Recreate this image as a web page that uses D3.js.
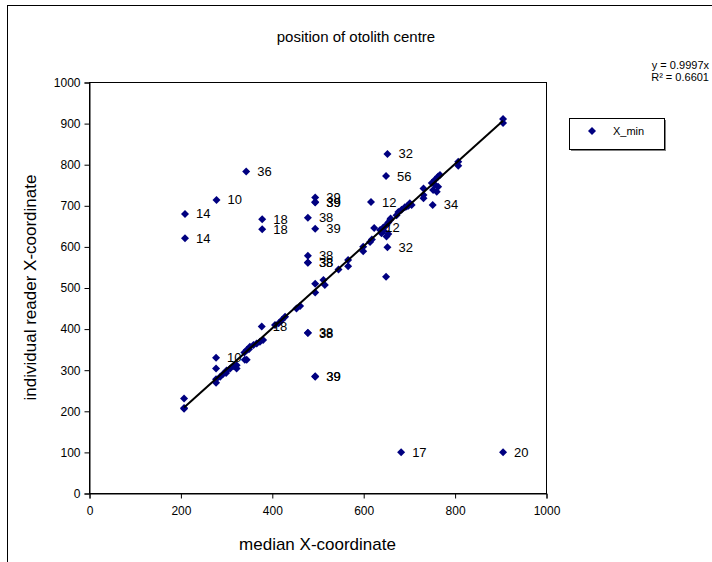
<!DOCTYPE html>
<html>
<head>
<meta charset="utf-8">
<script src="https://cdn.jsdelivr.net/npm/d3@7"></script>
<style>
  html, body { margin: 0; padding: 0; background: #fff; }
  svg { display: block; font-family: "Liberation Sans", Arial, sans-serif; }
</style>
</head>
<body>
<svg id="chart" width="712" height="562"></svg>
<script>
// ---- data ----
const medianX = [
  210, 210, 279, 344, 379, 379, 479, 495, 495, 495, 495, 479, 479, 479,
  653, 650, 617, 624, 653, 752, 479, 479, 495, 495, 278, 378, 683, 906,
  650,
  208, 208, 208,
  278, 278, 278,
  294, 301, 309, 316, 323, 323, 300, 287,
  341, 345, 345, 352, 360, 367, 374, 381, 340, 350,
  407, 422, 429, 415,
  454, 462,
  495, 495, 513, 516, 546, 567, 567, 600, 600, 615, 619,
  637, 644, 651, 655, 659, 640, 651, 655, 645, 660,
  673, 677, 684, 691, 699, 706, 695, 702,
  732, 732, 732, 750, 757, 764, 768, 753, 761, 764, 757,
  808, 808,
  906, 906
];
const readerX = [
  679, 620, 713, 782, 666, 642, 670, 719, 708, 707, 643, 577, 561, 560,
  825, 771, 708, 645, 598, 701, 390, 389, 284, 283, 329, 405, 99, 99,
  526,
  230, 207, 205,
  303, 277, 268,
  290, 298, 303, 309, 311, 303, 292, 283,
  324, 324, 348, 356, 360, 364, 368, 372, 342, 350,
  409, 421, 429, 413,
  449, 455,
  509, 488, 518, 506, 544, 567, 552, 599, 588, 611, 617,
  640, 646, 652, 658, 664, 632, 624, 630, 638, 668,
  676, 684, 689, 695, 699, 701, 697, 705,
  741, 725, 717, 754, 762, 770, 774, 737, 733, 745, 750,
  806, 796,
  910, 900
];
const pointLabels = [
  "14", "14", "10", "36", "18", "18", "38", "39", "39", "39", "39", "38", "38", "38",
  "32", "56", "12", "12", "32", "34", "38", "38", "39", "39", "10", "18", "17", "20"
];
const xTicks = [0, 200, 400, 600, 800, 1000];
const yTicks = [0, 100, 200, 300, 400, 500, 600, 700, 800, 900, 1000];
const trendSlope = 0.9997;
const equationLines = ["y = 0.9997x", "R\u00B2 = 0.6601"];
const chartTitle = "position of otolith centre";
const xTitle = "median X-coordinate";
const yTitle = "individual reader X-coordinate";
const seriesName = "X_min";

// ---- layout ----
const plot = { left: 89, right: 546, top: 82, bottom: 493 };
const svg = d3.select("#chart");
const markColor = "#000080";

const x = d3.scaleLinear().domain([0, 1000]).range([plot.left, plot.right]);
const y = d3.scaleLinear().domain([0, 1000]).range([plot.bottom, plot.top]);

// outer chart border
svg.append("rect")
  .attr("x", 7.5).attr("y", 5.5)
  .attr("width", 760).attr("height", 600)
  .attr("fill", "none").attr("stroke", "#000").attr("stroke-width", 1);

// plot area frame
svg.append("rect")
  .attr("x", plot.left + 0.5).attr("y", plot.top + 0.5)
  .attr("width", plot.right - plot.left).attr("height", plot.bottom - plot.top)
  .attr("fill", "none").attr("stroke", "#000").attr("stroke-width", 1);

// axes
const gx = svg.append("g")
  .attr("transform", `translate(0.5,${plot.bottom + 0.5})`)
  .call(d3.axisBottom(x).tickValues(xTicks).tickSize(5).tickPadding(8).tickFormat(d3.format("d")));
const gy = svg.append("g")
  .attr("transform", `translate(${plot.left + 0.5},0.5)`)
  .call(d3.axisLeft(y).tickValues(yTicks).tickSize(5).tickPadding(4).tickFormat(d3.format("d")));
[gx, gy].forEach(g => {
  g.select(".domain").attr("stroke", "#000");
  g.selectAll(".tick line").attr("stroke", "#000");
  g.selectAll(".tick text").attr("fill", "#000")
    .style("font-family", "'Liberation Sans', Arial, sans-serif").style("font-size", "12px");
});

// points
const pts = medianX.map((mx, i) => ({ mx, ry: readerX[i], label: pointLabels[i] || "" }));
const r = 4;
const diamond = `M0,${-r}L${r},0L0,${r}L${-r},0Z`;
svg.append("g").selectAll("path")
  .data(pts).join("path")
  .attr("d", diamond)
  .attr("transform", d => `translate(${x(d.mx)},${y(d.ry)})`)
  .attr("fill", markColor);

// trendline
const xmin = d3.min(medianX), xmax = d3.max(medianX);
svg.append("line")
  .attr("x1", x(xmin)).attr("y1", y(trendSlope * xmin))
  .attr("x2", x(xmax)).attr("y2", y(trendSlope * xmax))
  .attr("stroke", "#000").attr("stroke-width", 2);

// point labels
svg.append("g").selectAll("text")
  .data(pts.filter(d => d.label)).join("text")
  .attr("x", d => x(d.mx) + 11)
  .attr("y", d => y(d.ry) + 4.5)
  .attr("font-size", 13)
  .attr("fill", "#000")
  .text(d => d.label);

// title
svg.append("text")
  .attr("x", 356).attr("y", 42)
  .attr("text-anchor", "middle").attr("font-size", 15)
  .text(chartTitle);

// axis titles
svg.append("text")
  .attr("x", (plot.left + plot.right) / 2).attr("y", 550)
  .attr("text-anchor", "middle").attr("font-size", 17)
  .text(xTitle);
svg.append("text")
  .attr("transform", `translate(36,${(plot.top + plot.bottom) / 2}) rotate(-90)`)
  .attr("text-anchor", "middle").attr("font-size", 17)
  .text(yTitle);

// equation
svg.append("g").selectAll("text")
  .data(equationLines).join("text")
  .attr("x", 709).attr("y", (d, i) => 69 + i * 12)
  .attr("text-anchor", "end").attr("font-size", 11)
  .text(d => d);

// legend
const lg = svg.append("g").attr("transform", "translate(569,118)");
lg.append("rect").attr("x", 2).attr("y", 2).attr("width", 95).attr("height", 31).attr("fill", "#808080");
lg.append("rect").attr("x", 0.5).attr("y", 0.5).attr("width", 95).attr("height", 31)
  .attr("fill", "#fff").attr("stroke", "#000");
lg.append("path").attr("d", diamond).attr("transform", "translate(23,13)").attr("fill", markColor);
lg.append("text").attr("x", 44).attr("y", 17).attr("font-size", 11).text(seriesName);
</script>
</body>
</html>
